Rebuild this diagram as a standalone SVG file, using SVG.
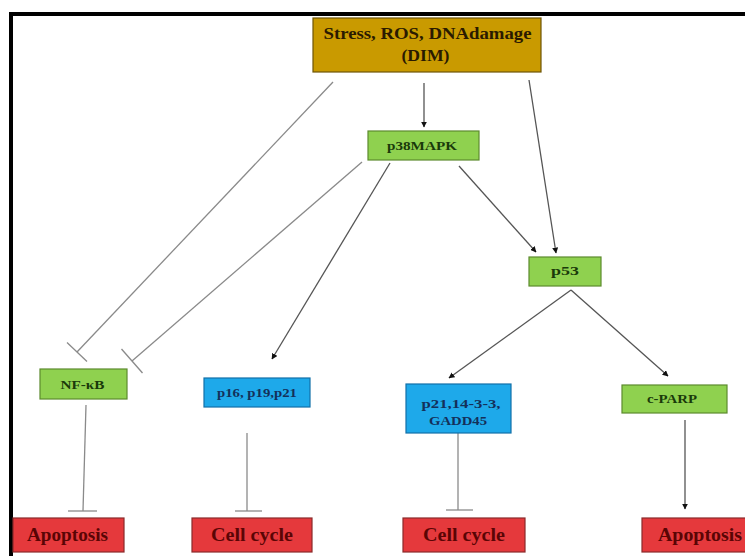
<svg xmlns="http://www.w3.org/2000/svg" width="745" height="556" viewBox="0 0 745 556">
<defs>
<style>
.t{font-family:"Liberation Serif","Times New Roman",serif;font-weight:bold;text-anchor:middle}
.g rect{fill:#8fd14f;stroke:#5c8a2e;stroke-width:1.2}
.g text{fill:#1a3a0a;font-size:13.5px}
.b rect{fill:#1ea9ea;stroke:#1270a8;stroke-width:1.2}
.b text{fill:#14305a;font-size:13.5px}
.r rect{fill:#e5393c;stroke:#8a2a2a;stroke-width:1.2}
.r text{fill:#5a0505;font-size:19px}
.o rect{fill:#c99a00;stroke:#6e5508;stroke-width:1.2}
.o text{fill:#2a1a00;font-size:16px}
.inh{stroke:#8a8a8a;stroke-width:1.3;fill:none}
.act{stroke:#555;stroke-width:1.3;fill:none;marker-end:url(#ah)}
</style>
<marker id="ah" viewBox="0 0 10 10" refX="9" refY="5" markerWidth="6" markerHeight="6" orient="auto" markerUnits="userSpaceOnUse">
<path d="M0,0 L10,5 L0,10 z" fill="#111"/>
</marker>
</defs>
<rect width="745" height="556" fill="#fff"/>
<path d="M11,556 V14 H745" fill="none" stroke="#000" stroke-width="4"/>

<g id="connectors">
<line class="act" x1="424" y1="83" x2="424" y2="127"/>
<line class="act" x1="529" y1="80" x2="556" y2="253"/>
<line class="act" x1="459" y1="166" x2="536" y2="252"/>
<line class="act" x1="390" y1="163" x2="272" y2="359"/>
<line class="act" x1="571" y1="290" x2="449" y2="378"/>
<line class="act" x1="571" y1="290" x2="668" y2="376"/>
<line class="act" x1="685" y1="420" x2="685" y2="509"/>
<line class="inh" x1="333" y1="82" x2="77" y2="352"/>
<line class="inh" x1="67" y1="342.5" x2="87" y2="361.5"/>
<line class="inh" x1="362" y1="162" x2="132" y2="361"/>
<line class="inh" x1="121.5" y1="349" x2="142.5" y2="373"/>
<line class="inh" x1="86" y1="405" x2="83" y2="511"/>
<line class="inh" x1="68" y1="511" x2="97" y2="511"/>
<line class="inh" x1="247" y1="433" x2="247" y2="511"/>
<line class="inh" x1="235" y1="511" x2="262" y2="511"/>
<line class="inh" x1="458" y1="433" x2="458" y2="510"/>
<line class="inh" x1="446" y1="510" x2="473" y2="510"/>
</g>

<g id="dim" class="o t">
<rect x="313" y="18" width="228" height="54"/>
<text x="427.5" y="39" textLength="208" lengthAdjust="spacingAndGlyphs">Stress, ROS, DNAdamage</text>
<text x="425.5" y="61" textLength="48" lengthAdjust="spacingAndGlyphs">(DIM)</text>
</g>
<g id="p38mapk" class="g t">
<rect x="368" y="131" width="111" height="29"/>
<text x="422" y="150" textLength="70" lengthAdjust="spacingAndGlyphs">p38MAPK</text>
</g>
<g id="p53" class="g t">
<rect x="529" y="257" width="72" height="29"/>
<text x="565" y="275" textLength="28" lengthAdjust="spacingAndGlyphs">p53</text>
</g>
<g id="nfkb" class="g t">
<rect x="40" y="369" width="87" height="30"/>
<text x="82.5" y="389" textLength="44" lengthAdjust="spacingAndGlyphs">NF-κB</text>
</g>
<g id="p16" class="b t">
<rect x="204" y="378" width="106" height="29"/>
<text x="257" y="397" textLength="80" lengthAdjust="spacingAndGlyphs">p16, p19,p21</text>
</g>
<g id="p21" class="b t">
<rect x="406" y="384" width="105" height="49"/>
<text x="461" y="408" textLength="79" lengthAdjust="spacingAndGlyphs">p21,14-3-3,</text>
<text x="458" y="425" textLength="58" lengthAdjust="spacingAndGlyphs">GADD45</text>
</g>
<g id="cparp" class="g t">
<rect x="622" y="385" width="105" height="28"/>
<text x="672" y="403" textLength="50" lengthAdjust="spacingAndGlyphs">c-PARP</text>
</g>
<g id="apoptosis1" class="r t">
<rect x="13" y="518" width="111" height="34"/>
<text x="67.5" y="541" textLength="81" lengthAdjust="spacingAndGlyphs">Apoptosis</text>
</g>
<g id="cellcycle1" class="r t">
<rect x="192" y="518" width="120" height="34"/>
<text x="252" y="541" textLength="82" lengthAdjust="spacingAndGlyphs">Cell cycle</text>
</g>
<g id="cellcycle2" class="r t">
<rect x="403" y="518" width="122" height="34"/>
<text x="464" y="541" textLength="82" lengthAdjust="spacingAndGlyphs">Cell cycle</text>
</g>
<g id="apoptosis2" class="r t">
<rect x="642" y="518" width="110" height="34"/>
<text x="700" y="541" textLength="84" lengthAdjust="spacingAndGlyphs">Apoptosis</text>
</g>
</svg>
